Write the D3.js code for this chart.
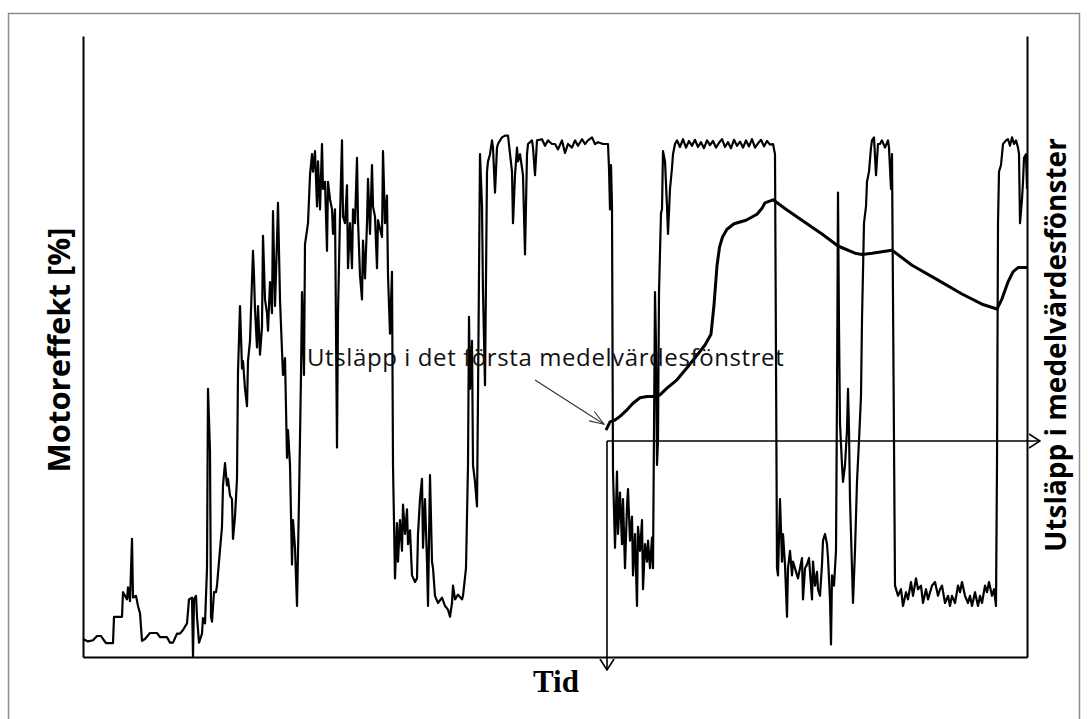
<!DOCTYPE html>
<html>
<head>
<meta charset="utf-8">
<script src="https://cdn.jsdelivr.net/npm/d3@7"></script>
<style>
  body { margin: 0; background: #fff; }
  svg { display: block; }
</style>
</head>
<body>
<script>
// engine power trace (time in s, power in %)
var powerTime = [0, 5, 10, 14, 18, 20, 23, 30, 31, 39, 40, 44, 45, 47, 49, 50, 53, 55, 57, 59,
  62, 67, 74, 77, 84, 87, 90, 94, 97, 100, 104, 106, 109, 110, 111, 113, 114, 116, 119, 120,
  122, 124, 125, 127, 128, 129, 131, 133, 134, 136, 139, 140, 142, 144, 145, 147, 149, 150, 152, 154,
  155, 157, 159, 160, 162, 164, 165, 167, 170, 171, 172, 174, 175, 177, 179, 180, 182, 184, 185, 187,
  189, 190, 192, 194, 195, 197, 199, 200, 202, 204, 205, 207, 209, 210, 212, 214, 216, 218, 219, 221,
  222, 224, 225, 227, 229, 230, 232, 234, 235, 237, 239, 240, 242, 244, 245, 247, 249, 250, 252, 254,
  255, 257, 259, 260, 262, 264, 265, 267, 269, 270, 272, 274, 275, 277, 279, 280, 282, 284, 285, 287,
  289, 290, 292, 294, 295, 299, 300, 302, 304, 305, 307, 309, 310, 312, 314, 315, 317, 319, 320, 322,
  324, 325, 327, 329, 332, 334, 335, 337, 339, 340, 342, 344, 345, 347, 349, 350, 352, 355, 359, 362,
  365, 367, 369, 370, 372, 375, 379, 380, 383, 385, 386, 387, 389, 390, 392, 394, 395, 397, 399, 400,
  402, 404, 405, 407, 409, 410, 412, 414, 415, 417, 419, 422, 425, 429, 430, 432, 434, 435, 437, 439,
  440, 442, 444, 445, 449, 450, 452, 454, 459, 462, 465, 469, 472, 475, 479, 482, 485, 489, 492, 495,
  499, 502, 505, 509, 512, 515, 520, 525, 526, 527, 528, 529, 530, 532, 534, 535, 537, 539, 540, 542,
  544, 545, 547, 549, 550, 552, 554, 555, 557, 559, 560, 562, 564, 565, 567, 569, 570, 571, 572, 573,
  574, 575, 576, 578, 579, 580, 582, 584, 585, 587, 589, 590, 592, 594, 597, 600, 603, 606, 609, 612,
  615, 618, 621, 624, 627, 630, 633, 636, 639, 642, 645, 648, 651, 654, 657, 660, 663, 666, 669, 672,
  675, 678, 681, 684, 687, 690, 692, 694, 695, 697, 699, 700, 702, 704, 705, 707, 709, 710, 715, 719,
  720, 722, 724, 726, 729, 730, 732, 734, 735, 737, 739, 740, 742, 744, 745, 747, 748, 749, 751, 753,
  754, 755, 756, 757, 759, 760, 762, 764, 765, 766, 767, 769, 770, 772, 774, 776, 778, 779, 781, 783,
  784, 786, 788, 789, 791, 793, 795, 797, 799, 802, 805, 806, 808, 809, 812, 815, 818, 820, 823, 825,
  828, 830, 833, 835, 838, 840, 843, 845, 849, 852, 855, 857, 859, 862, 865, 867, 869, 872, 875, 877,
  879, 882, 885, 887, 889, 892, 895, 897, 899, 902, 904, 906, 909, 911, 913, 914, 915, 916, 918, 920,
  923, 925, 927, 929, 931, 933, 935, 936, 937, 939, 940, 941, 943, 944];
var power = [3.0, 2.6, 2.8, 3.5, 3.5, 3.0, 2.3, 2.3, 6.7, 6.7, 10.8, 9.6, 11.6, 9.3, 19.7, 9.9, 10.2, 8.5, 7.3, 2.7,
  3.0, 4.0, 4.0, 3.3, 3.3, 2.4, 2.4, 3.9, 3.9, 4.5, 5.6, 9.6, 9.9, 0, 9.6, 10.2, 6.7, 2.4, 3.9, 6.5,
  5.6, 14.8, 44.7, 34.3, 6.7, 5.9, 10.8, 10.8, 11.9, 15.9, 21.7, 28.6, 32.3, 28.6, 29.7, 26.9, 26.3, 19.7, 23.4, 29.7,
  47.5, 58.5, 48.1, 49.3, 44.7, 41.8, 49.3, 52.7, 67.7, 63.6, 57.9, 51.6, 58.5, 50.4, 55.0, 70.2, 59.6, 57.3, 54.4, 62.5,
  57.3, 74.3, 58.5, 69.4, 75.7, 59.6, 51.0, 47.0, 49.8, 33.2, 37.8, 32.0, 15.4, 22.8, 18.2, 8.5, 26.3, 47.0, 60.8, 47.0,
  68.8, 71.1, 72.3, 80.3, 83.8, 80.9, 84.3, 75.1, 82.6, 74.6, 85.5, 78.0, 79.2, 67.7, 79.2, 76.3, 74.6, 70.5, 74.6, 34.9,
  57.3, 73.4, 86.1, 73.4, 72.3, 78.6, 64.8, 72.3, 64.8, 74.6, 72.3, 83.2, 72.8, 63.6, 59.6, 69.4, 63.1, 72.3, 79.7, 70.5,
  82.0, 75.1, 73.4, 64.8, 72.8, 70.0, 84.3, 72.3, 76.9, 63.6, 53.9, 64.2, 32.0, 13.1, 22.3, 15.9, 22.8, 17.7, 25.4, 20.5,
  24.6, 18.8, 21.1, 13.6, 12.5, 13.1, 20.5, 26.3, 29.7, 18.2, 26.3, 15.9, 8.5, 30.3, 15.9, 14.8, 10.2, 9.0, 9.9, 8.5,
  7.9, 6.7, 9.0, 11.9, 9.6, 10.4, 9.6, 10.2, 14.8, 32.0, 56.7, 44.7, 52.7, 32.0, 29.2, 25.1, 43.5, 83.8, 75.1, 60.8,
  45.3, 80.9, 82.6, 83.8, 86.1, 84.9, 77.4, 84.9, 85.5, 86.1, 86.6, 86.9, 86.9, 80.9, 72.3, 80.3, 84.9, 82.6, 83.8, 81.5,
  80.3, 67.1, 83.8, 85.5, 86.1, 84.9, 80.3, 86.1, 86.3, 85.2, 86.1, 85.5, 85.5, 84.6, 86.1, 84.0, 85.5, 84.9, 86.1, 85.2,
  86.3, 85.5, 86.1, 86.6, 85.5, 85.8, 85.5, 85.5, 81.5, 74.6, 82.0, 75.1, 30.9, 18.2, 30.9, 20.5, 27.4, 18.8, 26.3, 14.8,
  25.1, 28.0, 19.4, 23.4, 13.6, 20.5, 8.5, 21.7, 17.7, 22.8, 11.3, 18.8, 15.9, 19.4, 14.8, 19.9, 14.8, 37.8, 60.8, 52.1,
  32.0, 36.1, 60.8, 74.0, 74.6, 84.3, 82.6, 75.1, 70.5, 78.0, 81.5, 83.8, 85.5, 86.1, 85.0, 86.3, 84.9, 86.0, 85.2, 86.2,
  85.0, 85.8, 84.8, 86.1, 85.3, 86.0, 84.9, 85.7, 86.3, 85.0, 85.8, 84.8, 86.2, 85.2, 85.9, 84.9, 86.1, 85.1, 86.3, 84.9,
  85.6, 86.2, 85.1, 86.0, 85.4, 85.5, 83.8, 14.8, 13.6, 26.3, 15.9, 20.5, 15.4, 6.7, 14.8, 17.7, 13.6, 15.9, 13.1, 16.5,
  9.6, 14.8, 15.4, 16.5, 9.6, 15.9, 11.9, 14.2, 11.3, 10.2, 15.4, 19.4, 20.5, 18.8, 16.5, 9.6, 2.1, 13.6, 11.9, 17.7,
  43.5, 77.4, 55.0, 38.9, 32.0, 29.2, 32.0, 37.8, 44.7, 37.8, 26.3, 14.8, 9.0, 17.7, 29.2, 36.1, 43.5, 56.2, 72.3, 75.1,
  79.2, 80.9, 84.9, 86.1, 86.6, 80.3, 85.5, 85.5, 86.1, 84.9, 86.1, 84.9, 78.0, 83.8, 11.9, 10.2, 11.3, 8.5, 10.8, 9.6,
  12.5, 10.2, 13.1, 11.3, 11.9, 9.0, 11.3, 9.6, 11.9, 12.5, 10.2, 11.3, 11.9, 9.0, 10.2, 8.5, 10.2, 9.0, 11.9, 10.8,
  12.5, 10.2, 9.0, 10.2, 8.5, 10.8, 8.5, 10.2, 9.0, 11.9, 10.8, 12.5, 10.2, 11.3, 8.5, 32.0, 72.3, 80.9, 82.0, 85.5,
  86.1, 86.3, 85.2, 86.6, 85.5, 86.1, 84.9, 83.8, 72.3, 76.3, 79.2, 83.2, 83.8, 78.0];

// emission in the moving averaging window (relative units)
var emissionTime = [523, 527, 532, 537, 544, 550, 557, 564, 570, 577, 584, 594, 604, 614, 622, 628, 631, 634, 636.5, 639.5,
  644, 651, 663, 674, 679, 682, 690, 704, 724, 739, 755, 772, 779, 789, 809, 829, 852, 879, 899, 914,
  919, 925, 930, 935, 944];
var emission = [37.8, 39.2, 39.5, 40.1, 41.2, 42.3, 43.2, 43.4, 43.4, 43.7, 44.8, 46.2, 48.2, 50.3, 52.0, 53.8, 58.7, 65.2, 68.3, 70.0,
  71.3, 72.2, 72.8, 73.8, 74.8, 75.7, 76.2, 74.5, 72.2, 70.5, 68.5, 67.3, 67.1, 67.3, 67.8, 65.3, 63.1, 60.5, 58.8, 58.0,
  59.7, 62.5, 64.2, 64.9, 64.9];

// first averaging window: its start time and its emission level
var windowStart = 524;
var windowLevel = 36.0;

var labelY = 'Motoreffekt [%]';
var labelY2 = 'Utsläpp i medelvärdesfönster';
var labelX = 'Tid';
var note = 'Utsläpp i det första medelvärdesfönstret';

var width = 1088, height = 719;
var svg = d3.select('body').append('svg').attr('width', width).attr('height', height);

// picture frame
svg.append('rect')
  .attr('x', 8.5).attr('y', 13.5).attr('width', 1071).attr('height', 720)
  .attr('fill', 'none').attr('stroke', '#8c8c8c').attr('stroke-width', 1.5);

var x = d3.scaleLinear().domain([0, 944]).range([83, 1027]);
var y = d3.scaleLinear().domain([0, 103.5]).range([657, 36]);
var y2 = d3.scaleLinear().domain([0, 103.5]).range([657, 36]);

function bareAxis(g) {
  g.selectAll('.domain').attr('stroke', '#000').attr('stroke-width', 2);
}

svg.append('g').attr('transform', 'translate(83,0)')
  .call(d3.axisLeft(y).ticks(0).tickSize(0)).call(bareAxis);
svg.append('g').attr('transform', 'translate(1027,0)')
  .call(d3.axisRight(y2).ticks(0).tickSize(0)).call(bareAxis);
svg.append('g').attr('transform', 'translate(0,657)')
  .call(d3.axisBottom(x).ticks(0).tickSize(0)).call(bareAxis);

// arrowheads
var defs = svg.append('defs');
defs.append('marker').attr('id', 'open').attr('viewBox', '0 0 12 16')
  .attr('refX', 11).attr('refY', 8).attr('markerWidth', 12).attr('markerHeight', 16)
  .attr('markerUnits', 'userSpaceOnUse').attr('orient', 'auto')
  .append('path').attr('d', 'M0,1 L11,8 L0,15').attr('fill', 'none').attr('stroke', '#000').attr('stroke-width', 1.6);
defs.append('marker').attr('id', 'thin').attr('viewBox', '0 0 16 12')
  .attr('refX', 15).attr('refY', 6).attr('markerWidth', 16).attr('markerHeight', 12)
  .attr('markerUnits', 'userSpaceOnUse').attr('orient', 'auto')
  .append('path').attr('d', 'M0,0.5 L15,6 L0,11.5').attr('fill', 'none').attr('stroke', '#333').attr('stroke-width', 1.1);

var pts = powerTime.map(function (t, i) { return [t, power[i]]; });
var line = d3.line().x(function (d) { return x(d[0]); }).y(function (d) { return y(d[1]); });
svg.append('path').datum(pts).attr('d', line)
  .attr('fill', 'none').attr('stroke', '#000').attr('stroke-width', 2.2).attr('stroke-linejoin', 'round');

var ePts = emissionTime.map(function (t, i) { return [t, emission[i]]; });
var eLine = d3.line().x(function (d) { return x(d[0]); }).y(function (d) { return y2(d[1]); });
svg.append('path').datum(ePts).attr('d', eLine)
  .attr('fill', 'none').attr('stroke', '#000').attr('stroke-width', 3).attr('stroke-linejoin', 'round');

// the first window: down to the time axis, across to the emission axis
svg.append('line')
  .attr('x1', x(windowStart)).attr('y1', y2(windowLevel))
  .attr('x2', x(windowStart)).attr('y2', 670)
  .attr('stroke', '#000').attr('stroke-width', 1.6).attr('marker-end', 'url(#open)');
svg.append('line')
  .attr('x1', x(windowStart)).attr('y1', y2(windowLevel))
  .attr('x2', 1040).attr('y2', y2(windowLevel))
  .attr('stroke', '#000').attr('stroke-width', 1.6).attr('marker-end', 'url(#open)');

// note with its pointer
svg.append('line')
  .attr('x1', 535).attr('y1', 380).attr('x2', x(emissionTime[0]) - 2).attr('y2', y2(emission[0]) - 6)
  .attr('stroke', '#333').attr('stroke-width', 1.1).attr('marker-end', 'url(#thin)');
svg.append('text').attr('x', 307).attr('y', 366)
  .attr('font-family', 'Open Sans').attr('font-size', 24).attr('letter-spacing', 0.6).attr('fill', '#111')
  .text(note);

svg.append('text').attr('transform', 'translate(70,350) rotate(-90)')
  .attr('text-anchor', 'middle').attr('font-family', 'Open Sans').attr('font-weight', 'bold')
  .attr('font-size', 31).text(labelY);
svg.append('text').attr('transform', 'translate(1066,345) rotate(-90)')
  .attr('text-anchor', 'middle').attr('font-family', 'Open Sans').attr('font-weight', 'bold')
  .attr('font-size', 28).text(labelY2);
svg.append('text').attr('x', 533).attr('y', 692)
  .attr('font-family', 'Liberation Serif').attr('font-weight', 'bold')
  .attr('font-size', 31).text(labelX);
</script>
</body>
</html>
